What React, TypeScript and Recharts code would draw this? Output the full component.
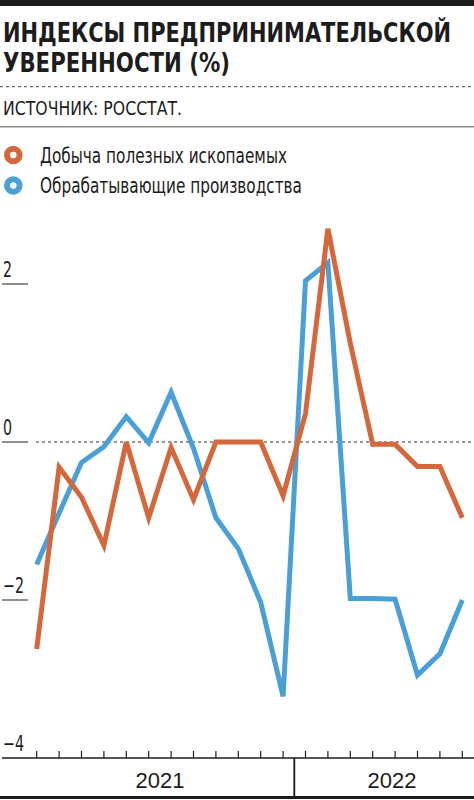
import React from 'react';
import { LineChart, Line, XAxis, YAxis, ReferenceLine } from 'recharts';

// Months Jan 2021 – Aug 2022
const months = [
  'янв 21', 'фев 21', 'мар 21', 'апр 21', 'май 21', 'июн 21',
  'июл 21', 'авг 21', 'сен 21', 'окт 21', 'ноя 21', 'дек 21',
  'янв 22', 'фев 22', 'мар 22', 'апр 22', 'май 22', 'июн 22',
  'июл 22', 'авг 22',
];

const mining = [
  -2.62, -0.32, -0.7, -1.31, 0, -0.96, -0.07, -0.73, 0, 0,
  0, -0.68, 0.36, 2.7, 1.25, -0.03, -0.03, -0.31, -0.31, -0.96,
];

const manufacturing = [
  -1.55, -0.9, -0.26, -0.06, 0.32, -0.01, 0.63, -0.08, -0.96, -1.35,
  -2.03, -3.22, 2.04, 2.27, -1.98, -1.98, -1.99, -2.95, -2.68, -2.0,
];

const seriesNames = ['Добыча полезных ископаемых', 'Обрабатывающие производства'];
const yTicks = [-4, -2, 0, 2];
const years = ['2021', '2022'];

const ORANGE = '#d4683c';
const BLUE = '#4a9fd6';
const INK = '#1c1c1c';
const NARROW = "'Liberation Sans Narrow', 'DejaVu Sans Condensed', Roboto, sans-serif";

const data = months.map((m, i) => ({ month: m, mining: mining[i], manufacturing: manufacturing[i] }));

const YTick = (props: any) => {
  const { y, payload } = props;
  const v = payload.value as number;
  const label = v < 0 ? `\u2212${Math.abs(v)}` : `${v}`;
  return (
    <g>
      <text
        x={3}
        y={y - 7}
        fontFamily={NARROW}
        fontSize={21}
        fill={INK}
        textLength={v < 0 ? 21 : 9}
        lengthAdjust="spacingAndGlyphs"
      >
        {label}
      </text>
      {v !== -4 && <line x1={2} x2={28} y1={y} y2={y} stroke="#444" strokeWidth={1.2} />}
    </g>
  );
};

const XTick = (props: any) => {
  const { x, y, index } = props;
  return (
    <g>
      <line x1={x} x2={x} y1={y - 7} y2={y} stroke={INK} strokeWidth={1.2} />
      {index === 5 && (
        <text x={x + 11.2} y={y + 30} textAnchor="middle" fontFamily="'Liberation Sans', Arial, sans-serif" fontSize={22} fill={INK}>
          {years[0]}
        </text>
      )}
      {index === 16 && (
        <text x={x - 3} y={y + 30} textAnchor="middle" fontFamily="'Liberation Sans', Arial, sans-serif" fontSize={22} fill={INK}>
          {years[1]}
        </text>
      )}
      {index === 11 && <line x1={x + 11.2} x2={x + 11.2} y1={y} y2={y + 40} stroke={INK} strokeWidth={1.8} />}
    </g>
  );
};

const ZeroLine = (props: any) => {
  const { x1, x2, y1 } = props;
  return <line x1={x1 + 34} x2={x2} y1={y1} y2={y1} stroke="#333" strokeWidth={1} strokeDasharray="3 3" />;
};

const Header = () => (
  <svg width={474} height={200} style={{ position: 'absolute', top: 0, left: 0 }}>
    <rect x={0} y={0} width={474} height={6} fill={INK} />
    <text transform="translate(3,41.7) scale(1,1.15)" x={0} y={0} fontFamily={NARROW} fontWeight="bold" fontSize={23} fill={INK} textLength={448} lengthAdjust="spacingAndGlyphs">
      ИНДЕКСЫ ПРЕДПРИНИМАТЕЛЬСКОЙ
    </text>
    <text transform="translate(3,71.5) scale(1,1.15)" x={0} y={0} fontFamily={NARROW} fontWeight="bold" fontSize={23} fill={INK} textLength={227} lengthAdjust="spacingAndGlyphs">
      УВЕРЕННОСТИ (%)
    </text>
    <line x1={0} x2={474} y1={86.7} y2={86.7} stroke="#444" strokeWidth={1} strokeDasharray="3 3" />
    <text x={3} y={115} fontFamily={NARROW} fontSize={20} fill={INK} textLength={179} lengthAdjust="spacingAndGlyphs">
      ИСТОЧНИК: РОССТАТ.
    </text>
    <line x1={0} x2={474} y1={126.7} y2={126.7} stroke="#888" strokeWidth={1.5} />
    <circle cx={13.3} cy={155} r={6.3} fill="none" stroke={ORANGE} strokeWidth={6} />
    <text x={40} y={162.5} fontFamily={NARROW} fontSize={21} fill={INK} textLength={247} lengthAdjust="spacingAndGlyphs">
      {seriesNames[0]}
    </text>
    <circle cx={13.3} cy={185.5} r={6.3} fill="none" stroke={BLUE} strokeWidth={6} />
    <text x={40} y={192.5} fontFamily={NARROW} fontSize={21} fill={INK} textLength={262} lengthAdjust="spacingAndGlyphs">
      {seriesNames[1]}
    </text>
  </svg>
);

export default function App() {
  return (
    <div style={{ position: 'absolute', top: 0, left: 0, width: 474, height: 800, background: '#fff' }}>
      <div style={{ position: 'absolute', top: 0, left: 0 }}>
        <LineChart width={474} height={800} data={data} margin={{ top: 205, right: 0, bottom: 0, left: -28 }}>
          <XAxis
            dataKey="month"
            height={42}
            padding={{ left: 34.7, right: 11.7 }}
            interval={0}
            tickSize={0}
            tickMargin={0}
            tickLine={false}
            axisLine={{ stroke: INK, strokeWidth: 1.5 }}
            tick={<XTick />}
          />
          <YAxis
            width={30}
            domain={[-4, 3]}
            ticks={yTicks}
            interval={0}
            tickSize={0}
            tickMargin={0}
            tickLine={false}
            axisLine={false}
            tick={<YTick />}
          />
          <ReferenceLine y={0} shape={<ZeroLine />} />
          <Line type="linear" dataKey="manufacturing" name={seriesNames[1]} stroke={BLUE} strokeWidth={5} dot={false} isAnimationActive={false} />
          <Line type="linear" dataKey="mining" name={seriesNames[0]} stroke={ORANGE} strokeWidth={5} dot={false} isAnimationActive={false} />
        </LineChart>
      </div>
      <div style={{ position: 'absolute', left: 0, top: 796, width: 474, height: 3, background: INK }} />
      <Header />
    </div>
  );
}
